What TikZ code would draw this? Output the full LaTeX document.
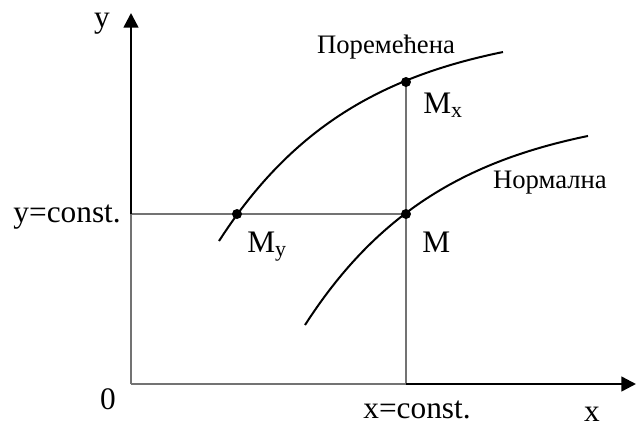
\documentclass[tikz,border=0pt]{standalone}
\usepackage{fontspec}
\setmainfont{Liberation Serif}
\usetikzlibrary{arrows.meta}
\begin{document}
\begin{tikzpicture}[x=0.75pt,y=-0.75pt,
  thinline/.style={draw=black!55, line width=1pt},
  axisline/.style={draw=black, line width=1.9pt},
  curveline/.style={draw=black, line width=1.5pt},
  dot/.style={circle, fill=black, inner sep=0pt, minimum size=7.5pt},
  lbl/.style={font=\fontsize{23.5}{23.5}\selectfont, inner sep=0pt},
  clbl/.style={font=\fontsize{20}{20}\selectfont, inner sep=0pt},
  tip/.style={-{Triangle[length=11pt,width=11pt]}}]
\useasboundingbox (0,0) rectangle (637,426);
\coordinate (O) at (131,384);
\coordinate (Yc) at (131,214);
\coordinate (Ytop) at (131,13);
\coordinate (Xc) at (406,384);
\coordinate (Xend) at (636,384);
\coordinate (pMy) at (237,214);
\coordinate (pM) at (406,214);
\coordinate (pMx) at (406,82);
% thin guide lines
\draw[thinline] (O) -- (Yc);
\draw[thinline] (O) -- (Xc);
\draw[thinline] (Yc) -- (pM);
\draw[thinline] (Xc) -- (pMx);
% axes
\draw[axisline,tip] (Yc) -- (Ytop);
\draw[axisline,tip] (Xc) -- (Xend);
% curves
\draw[curveline] plot[domain=219:503, samples=60, smooth] (\x, {23.4+217.6*exp(-(\x-219)/140)});
\draw[curveline] plot[domain=305:588, samples=60, smooth] (\x, {107.1+217.9*exp(-(\x-305)/140)});
% points
\node[dot] (My) at (pMy) {};
\node[dot] (M) at (pM) {};
\node[dot] (Mx) at (pMx) {};
% labels
\node[lbl,anchor=base] (ly) at (102,27) {y};
\node[lbl,anchor=base] (l0) at (108,409) {0};
\node[lbl,anchor=base] (lxc) at (417,418) {x=const.};
\node[lbl,anchor=base] (lx) at (592,421) {x};
\node[lbl,anchor=base east] (lyc) at (121,222) {y=const.};
\node[lbl,anchor=base west] (lMx) at (423,113) {M\textsubscript{x}};
\node[lbl,anchor=base west] (lMy) at (247,252) {M\textsubscript{y}};
\node[lbl,anchor=base west] (lM) at (422,252) {M};
\node[clbl,anchor=base] (lp) at (386,53) {Поремећена};
\node[clbl,anchor=base] (ln) at (550,188) {Нормална};
\end{tikzpicture}
\end{document}
